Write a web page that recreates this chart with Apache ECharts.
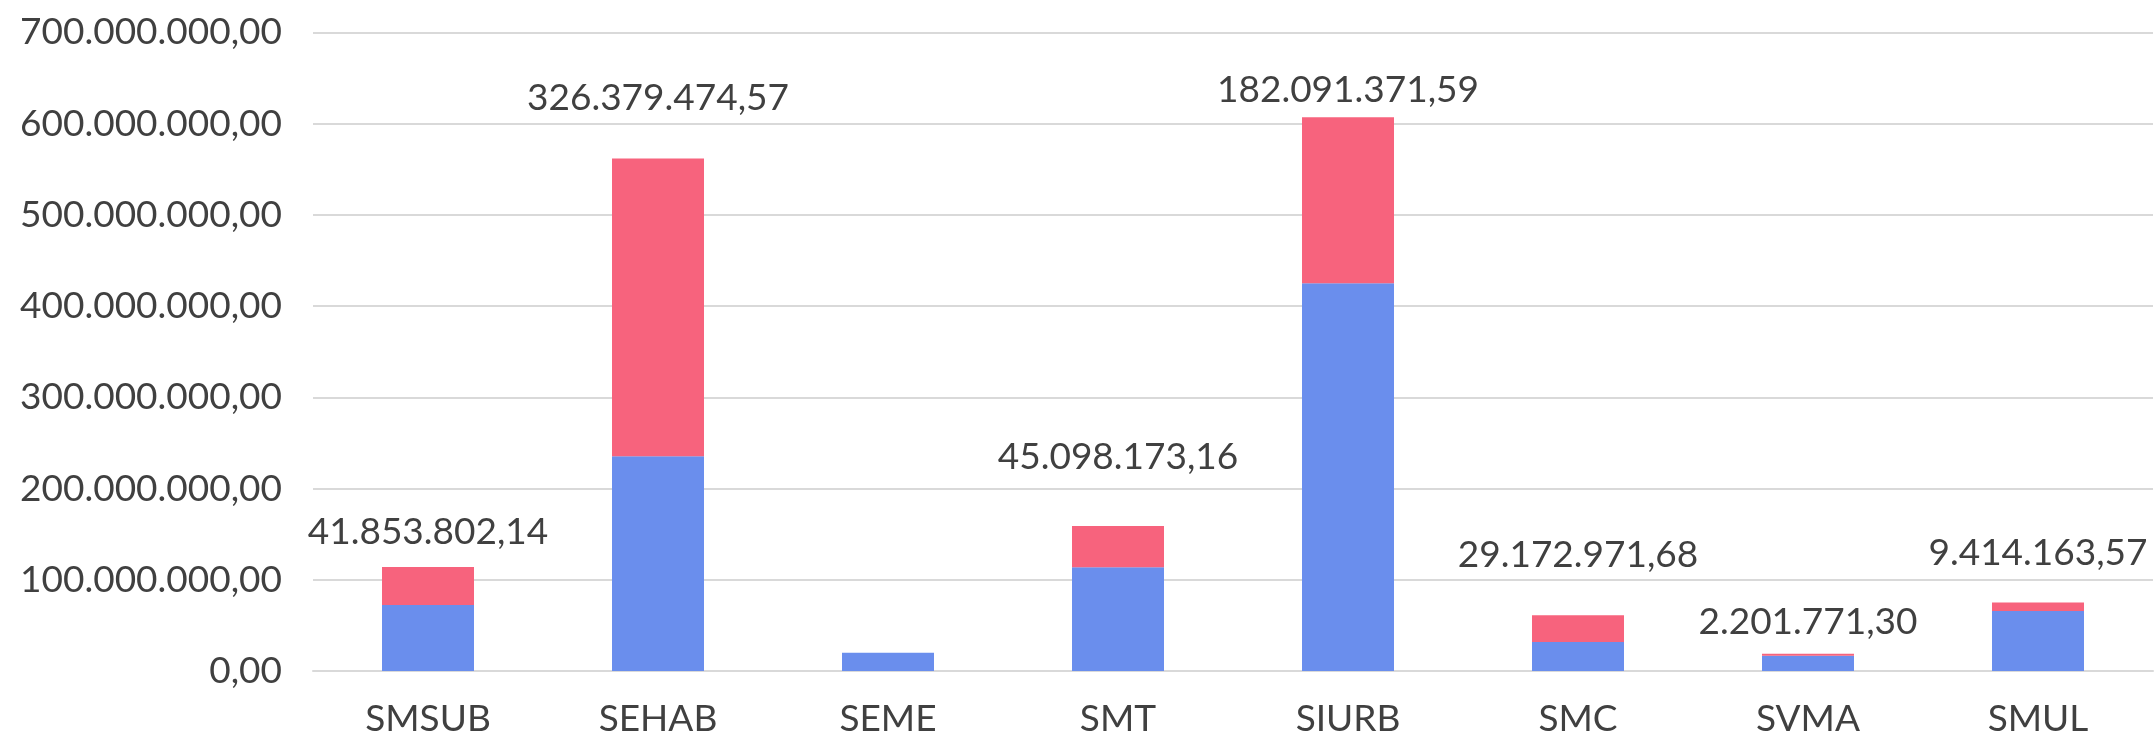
<!DOCTYPE html>
<html>
<head>
<meta charset="utf-8">
<script src="https://cdn.jsdelivr.net/npm/echarts@6/dist/echarts.min.js"></script>
<style>
  html, body { margin: 0; padding: 0; background: #fff; }
  #chart { width: 2154px; height: 738px; }
</style>
</head>
<body>
<div id="chart"></div>
<script>
const categories = ['SMSUB', 'SEHAB', 'SEME', 'SMT', 'SIURB', 'SMC', 'SVMA', 'SMUL'];
// lower (blue) part
const blueValues = [72300000, 235500000, 20100000, 113800000, 425000000, 31900000, 16800000, 65800000];
// upper (red) part, from the printed labels
const redValues = [41853802.14, 326379474.57, 0, 45098173.16, 182091371.59, 29172971.68, 2201771.30, 9414163.57];
const yTicks = { min: 0, max: 700000000, interval: 100000000 };

// label lift above the bar top, px (labels were placed by hand in the original)
const labelLift = [16, 42, 0, 50, 9, 42, 13, 31];

const fmt = (v) => {
  const parts = Number(v).toFixed(2).split('.');
  return parts[0].replace(/\B(?=(\d{3})+(?!\d))/g, '.') + ',' + parts[1];
};

const textColor = '#404040';
const gridColor = '#d9d9d9';
const font = 'Lato';

const chart = echarts.init(document.getElementById('chart'));
chart.setOption({
  animation: false,
  textStyle: { fontFamily: font },
  grid: { left: 313, right: 1, top: 32.5, bottom: 65.3 },
  xAxis: {
    type: 'category',
    data: categories,
    axisTick: { show: false },
    axisLine: { lineStyle: { color: gridColor, width: 2 } },
    axisLabel: { color: textColor, fontSize: 37, fontFamily: font, margin: 30 }
  },
  yAxis: {
    type: 'value',
    min: yTicks.min,
    max: yTicks.max,
    interval: yTicks.interval,
    axisLine: { show: false },
    axisTick: { show: false },
    splitLine: { lineStyle: { color: gridColor, width: 2 } },
    axisLabel: { color: textColor, fontSize: 37, fontFamily: font, margin: 31, formatter: fmt }
  },
  series: [
    {
      type: 'bar',
      stack: 'total',
      barWidth: '40%',
      itemStyle: { color: '#6a8eed' },
      data: blueValues
    },
    {
      type: 'bar',
      stack: 'total',
      barWidth: '40%',
      itemStyle: { color: '#f7637d' },
      data: redValues.map((v, i) => ({
        value: v,
        label: {
          show: v > 0,
          position: 'top',
          distance: 0,
          offset: [0, -labelLift[i]],
          color: textColor,
          fontSize: 37,
          fontFamily: font,
          formatter: (p) => fmt(p.value)
        }
      }))
    }
  ]
});
</script>
</body>
</html>
